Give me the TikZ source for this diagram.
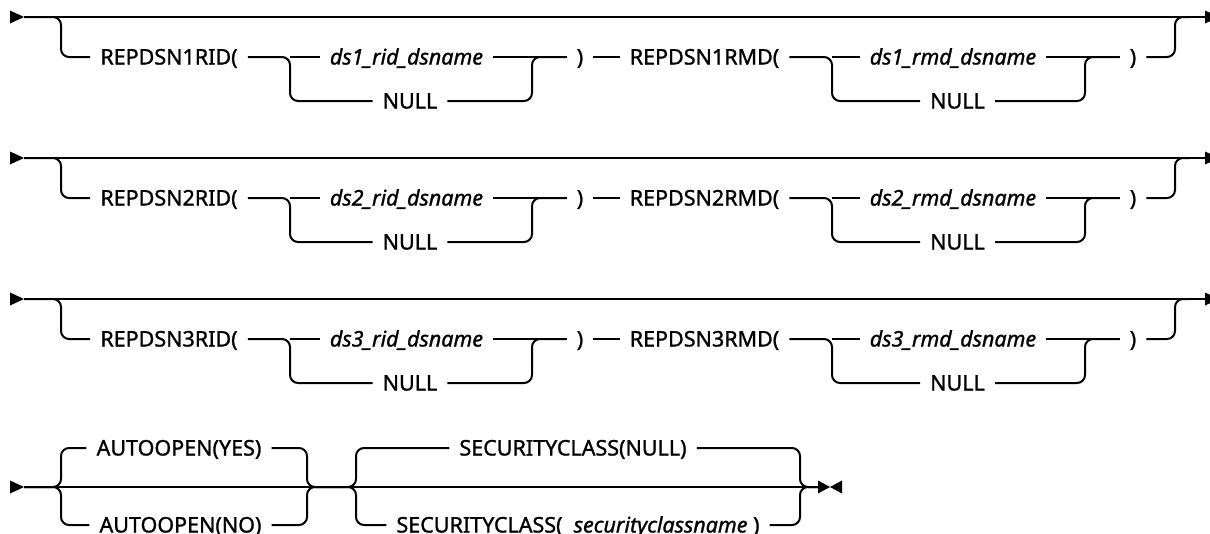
\documentclass[tikz,border=0pt]{standalone}
\usepackage{fontspec}
\setmainfont{Noto Sans}[UprightFeatures={RawFeature={embolden=1.2}},ItalicFeatures={RawFeature={embolden=1.2}}]
\usetikzlibrary{calc}
\tikzset{
  ln/.style={line width=2pt},
  br/.style={line width=2pt, rounded corners=8pt},
  lbl/.style={font=\fontsize{21.5}{24}\selectfont, inner xsep=10pt, inner ysep=0pt, text height=15pt, text depth=0pt},
  ilbl/.style={lbl, font=\fontsize{21.5}{24}\selectfont\itshape},
}
\newcommand{\startmark}[1]{\fill ($(#1)+(0,-6.5)$) -- ($(#1)+(14,0)$) -- ($(#1)+(0,6.5)$) -- cycle;}
\begin{document}
\begin{tikzpicture}[x=1pt,y=-1pt]
\useasboundingbox (0,0) rectangle (1210,533);
\foreach \n in {1,2,3}{
  \pgfmathsetmacro{\ya}{17+141*(\n-1)}
  \pgfmathsetmacro{\yb}{\ya+40}
  \pgfmathsetmacro{\yc}{\ya+84}
  \coordinate (s\n) at (10,\ya);
  \coordinate (st\n) at (24,\ya);
  \coordinate (e\n) at (1205,\ya);
  \coordinate (br\n) at (61,\ya);
  \coordinate (sa\n) at (290,\yb);
  \coordinate (ja\n) at (532,\yb);
  \coordinate (sb\n) at (832,\yb);
  \coordinate (jb\n) at (1085,\yb);
  \coordinate (je\n) at (1175,\ya);
  \coordinate (ee\n) at (1190,\ya);
  \node[lbl] (rid\n) at (169,\yb) {REPDSN\n RID(};
  \node[ilbl] (drid\n) at (406.5,\yb) {ds\n\_rid\_dsname};
  \node[lbl] (nrid\n) at (410,\yc) {NULL};
  \node[lbl] (pa\n) at (580,\yb) {)};
  \node[lbl] (rmd\n) at (704.5,\yb) {REPDSN\n RMD(};
  \node[ilbl] (drmd\n) at (953,\yb) {ds\n\_rmd\_dsname};
  \node[lbl] (nrmd\n) at (957.5,\yc) {NULL};
  \node[lbl] (pb\n) at (1133,\yb) {)};
  % main line with marks
  \startmark{s\n}
  \draw[ln] (st\n) -- (e\n);
  \startmark{e\n}
  % optional branch
  \draw[br] (st\n) -- (br\n) |- (rid\n.west);
  \draw[br] (rid\n.east) -- (sa\n) |- (nrid\n.west);
  \draw[ln] (sa\n) -- (drid\n.west);
  \draw[br] (nrid\n.east) -| (ja\n) -- (pa\n.west);
  \draw[ln] (drid\n.east) -- (pa\n.west);
  \draw[ln] (pa\n.east) -- (rmd\n.west);
  \draw[br] (rmd\n.east) -- (sb\n) |- (nrmd\n.west);
  \draw[ln] (sb\n) -- (drmd\n.west);
  \draw[br] (nrmd\n.east) -| (jb\n) -- (pb\n.west);
  \draw[ln] (drmd\n.east) -- (pb\n.west);
  \draw[br] (pb\n.east) -| (je\n) -- (ee\n);
}
% row 4
\coordinate (s4) at (10,487);
\coordinate (st4) at (24,487);
\coordinate (a4) at (61,487);
\coordinate (j4) at (307,487);
\coordinate (m4) at (317,487);
\coordinate (b4) at (356,487);
\coordinate (k4) at (800,487);
\coordinate (f4) at (818,487);
\coordinate (g4) at (830,487);
\coordinate (h4) at (842,487);
\node[lbl] (yes) at (179,448) {AUTOOPEN(YES)};
\node[lbl] (no) at (180.5,525) {AUTOOPEN(NO)};
\node[lbl] (scn) at (573,448) {SECURITYCLASS(NULL)};
\node[lbl] (scv) at (578,525) {SECURITYCLASS(\ \ \textit{securityclassname}\ )};
\startmark{s4}
\draw[ln] (st4) -- (f4);
\draw[br] (st4) -- (a4) |- (yes.west);
\draw[br] (st4) -- (a4) |- (no.west);
\draw[br] (yes.east) -| (j4) -- (m4);
\draw[br] (no.east) -| (j4) -- (m4);
\draw[br] (m4) -- (b4) |- (scn.west);
\draw[br] (m4) -- (b4) |- (scv.west);
\draw[br] (scn.east) -| (k4) -- (f4);
\draw[br] (scv.east) -| (k4) -- (f4);
\fill ($(f4)+(0,-6.5)$) -- (g4) -- ($(f4)+(0,6.5)$) -- cycle;
\fill ($(h4)+(0,-6.5)$) -- (g4) -- ($(h4)+(0,6.5)$) -- cycle;
\end{tikzpicture}
\end{document}
